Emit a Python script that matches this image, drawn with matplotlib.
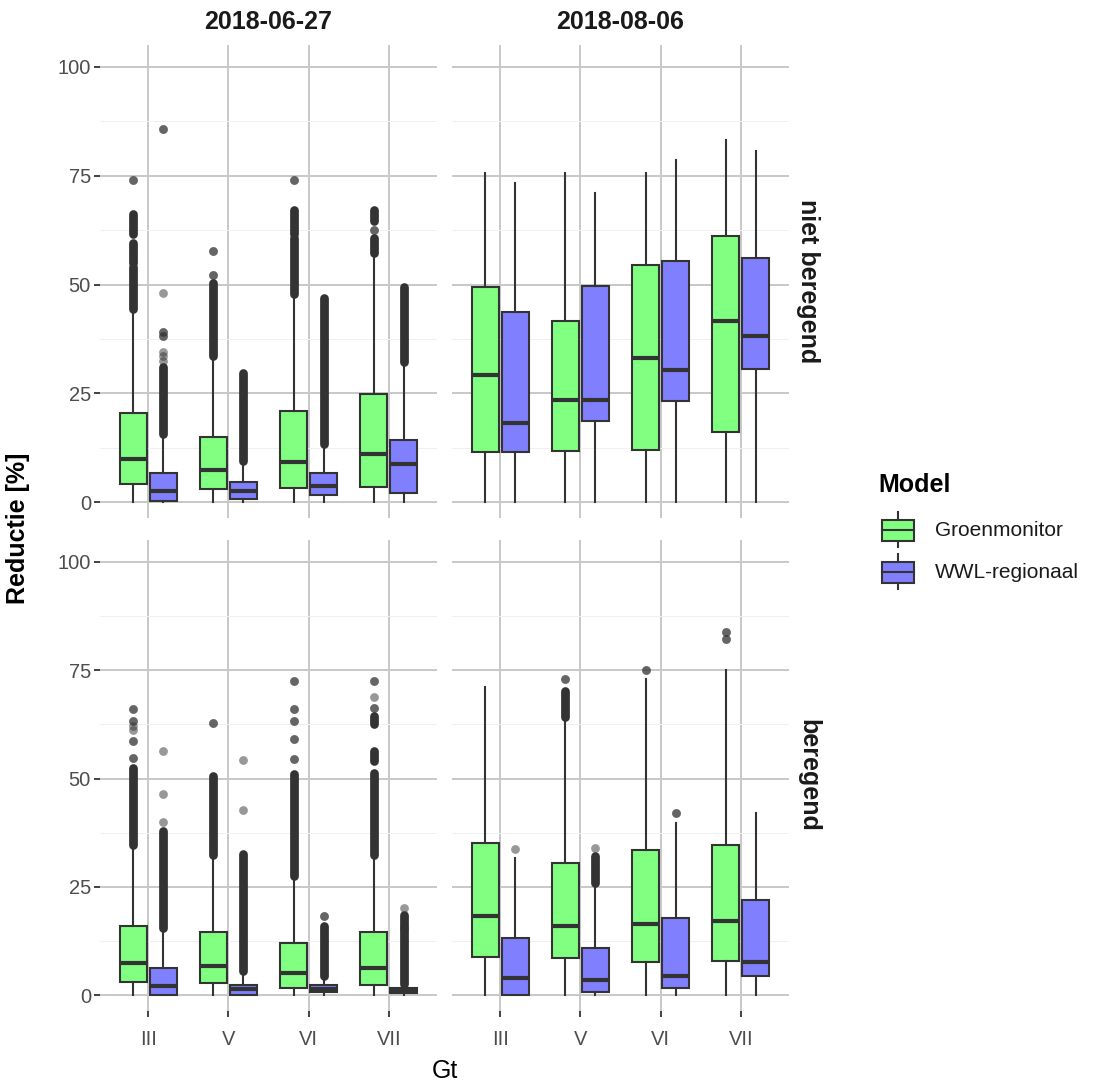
import matplotlib.pyplot as plt
from matplotlib.patches import Rectangle

plt.rcParams['font.family'] = ['Liberation Sans', 'DejaVu Sans']

W, H = 1093, 1084

gt_levels = ['III', 'V', 'VI', 'VII']
dates = ['2018-06-27', '2018-08-06']
irrigation = ['niet beregend', 'beregend']
models = ['Groenmonitor', 'WWL-regionaal']
fills = ['#80ff80', '#8080ff']
ink = '#333333'

# box statistics per Gt class: [lower whisker, Q1, median, Q3, upper whisker]
gm_0627_niet = [[0, 4.3, 10.0, 20.4, 44.3], [0, 3.1, 7.4, 15.1, 33.2],
                [0, 3.4, 9.3, 21.0, 47.7], [0, 3.6, 11.0, 24.9, 56.9]]
wwl_0627_niet = [[0, 0.2, 2.5, 6.7, 15.6], [0, 0.8, 2.6, 4.7, 9.3],
                 [0, 1.7, 3.7, 6.7, 13.3], [0, 2.2, 8.9, 14.4, 32.0]]
gm_0806_niet = [[0, 11.5, 29.3, 49.4, 75.5], [0, 11.7, 23.5, 41.7, 75.5],
                [0, 11.9, 33.1, 54.4, 75.5], [0, 16.1, 41.7, 61.2, 83.2]]
wwl_0806_niet = [[0, 11.5, 18.2, 43.8, 73.4], [0, 18.6, 23.5, 49.7, 71.1],
                 [0, 23.2, 30.3, 55.5, 78.6], [0, 30.6, 38.2, 56.0, 80.7]]
gm_0627_ber = [[0, 3.1, 7.4, 15.9, 34.5], [0, 2.9, 6.8, 14.7, 32.1],
               [0, 1.8, 5.1, 12.1, 27.3], [0, 2.5, 6.4, 14.7, 32.1]]
wwl_0627_ber = [[0, 0.0, 2.2, 6.4, 15.3], [0, 0.0, 1.5, 2.5, 5.4],
                [0, 0.7, 1.5, 2.3, 4.3], [0, 0.6, 1.2, 1.7, 2.5]]
gm_0806_ber = [[0, 8.9, 18.4, 35.1, 71.1], [0, 8.7, 16.1, 30.6, 64.0],
               [0, 7.6, 16.4, 33.6, 72.9], [0, 7.9, 17.2, 34.7, 75.0]]
wwl_0806_ber = [[0, 0.0, 3.9, 13.2, 31.7], [0, 0.7, 3.6, 10.9, 25.6],
                [0, 1.8, 4.5, 17.8, 39.8], [0, 4.4, 7.6, 22.1, 42.1]]

# single outliers per Gt class (repeated values overlap and print darker)
gm_0627_niet_pts = [[74.1, 74.1], [52.3, 52.3, 57.8, 57.8], [74.1, 74.1], [62.5, 62.5]]
wwl_0627_niet_pts = [[32.5, 33.5, 34.5, 38.3, 38.3, 39.0, 39.0, 48.1, 85.7, 85.7], [], [], []]
gm_0806_niet_pts = [[], [], [], []]
wwl_0806_niet_pts = [[], [], [], []]
gm_0627_ber_pts = [[54.7, 54.7, 58.6, 58.6, 61.1, 62.1, 63.2, 63.2, 66.0, 66.0],
                   [62.8, 62.8],
                   [54.5, 54.5, 59.1, 59.1, 63.2, 63.2, 66.0, 66.0, 72.4, 72.4],
                   [66.2, 66.2, 68.7, 72.4, 72.4]]
wwl_0627_ber_pts = [[40.0, 46.4, 56.3], [42.8, 54.2], [18.3, 18.3], [15.5, 20.2]]
gm_0806_ber_pts = [[], [72.9, 72.9], [75.0, 75.0], [82.2, 82.2, 83.7, 83.7]]
wwl_0806_ber_pts = [[33.7], [34.0], [42.0, 42.0], []]

# stretches where outliers overlap into a solid column: (from, to)
gm_0627_niet_runs = [[(44.5, 54.0), (55.0, 59.5), (61.5, 66.3)], [(33.5, 50.4)],
                     [(47.9, 60.7), (61.5, 67.2)], [(57.2, 60.8), (64.6, 67.2)]]
wwl_0627_niet_runs = [[(15.8, 31.0)], [(9.5, 29.7)], [(13.5, 46.9)], [(32.3, 49.4)]]
gm_0806_niet_runs = [[], [], [], []]
wwl_0806_niet_runs = [[], [], [], []]
gm_0627_ber_runs = [[(34.7, 52.4)], [(32.3, 50.6)], [(27.5, 51.0)],
                    [(32.3, 51.3), (54.0, 56.3), (62.5, 64.4)]]
wwl_0627_ber_runs = [[(15.5, 37.9)], [(5.6, 32.6)], [(4.5, 16.1)], [(2.7, 18.6)]]
gm_0806_ber_runs = [[], [(64.2, 70.2)], [], []]
wwl_0806_ber_runs = [[], [(25.8, 32.2)], [], []]

panels = {
    (0, 0): ([gm_0627_niet, wwl_0627_niet], [gm_0627_niet_pts, wwl_0627_niet_pts],
             [gm_0627_niet_runs, wwl_0627_niet_runs]),
    (0, 1): ([gm_0806_niet, wwl_0806_niet], [gm_0806_niet_pts, wwl_0806_niet_pts],
             [gm_0806_niet_runs, wwl_0806_niet_runs]),
    (1, 0): ([gm_0627_ber, wwl_0627_ber], [gm_0627_ber_pts, wwl_0627_ber_pts],
             [gm_0627_ber_runs, wwl_0627_ber_runs]),
    (1, 1): ([gm_0806_ber, wwl_0806_ber], [gm_0806_ber_pts, wwl_0806_ber_pts],
             [gm_0806_ber_runs, wwl_0806_ber_runs]),
}

# panel extents in pixels (left, right) and (top, bottom)
col_px = [(100, 437), (452, 789)]
row_px = [(45, 518), (540, 1011)]
offsets = [-0.1875, 0.1875]
box_w = 0.3375


def draw_panel(ax, stats, pts, runs):
    for m in range(len(models)):
        pos = [i + 1 + offsets[m] for i in range(len(gt_levels))]
        bstats = [dict(whislo=s[0], q1=s[1], med=s[2], q3=s[3], whishi=s[4])
                  for s in stats[m]]
        for i in range(len(gt_levels)):
            vals = pts[m][i]
            if vals:
                ax.scatter([pos[i]] * len(vals), vals, s=40, color=ink,
                           alpha=0.5, linewidths=0, zorder=3)
            for lo, hi in runs[m][i]:
                lc = ax.vlines(pos[i], lo, hi, color=ink, lw=6.3, zorder=3)
                lc.set_capstyle('round')
        ax.bxp(bstats, positions=pos, widths=box_w, showfliers=False,
               showcaps=False, patch_artist=True, manage_ticks=False,
               boxprops=dict(facecolor=fills[m], edgecolor=ink, linewidth=1.5),
               whiskerprops=dict(color=ink, linewidth=1.5),
               medianprops=dict(color=ink, linewidth=3.0, solid_capstyle='butt'),
               zorder=4)


fig = plt.figure(figsize=(W / 100, H / 100), dpi=100)

for (r, c), (stats, pts, runs) in panels.items():
    x0, x1 = col_px[c]
    y0, y1 = row_px[r]
    ax = fig.add_axes([x0 / W, 1 - y1 / H, (x1 - x0) / W, (y1 - y0) / H])
    ax.set_xlim(0.4, 4.6)
    ax.set_ylim(-3.6, 105)
    ax.set_axisbelow(True)
    ax.set_xticks(range(1, 5))
    ax.set_yticks([0, 25, 50, 75, 100])
    ax.set_yticks([12.5, 37.5, 62.5, 87.5], minor=True)
    ax.grid(True, which='major', color='#c8c8c8', lw=1.4)
    ax.grid(True, which='minor', axis='y', color='#f0f0f0', lw=0.7)
    for sp in ax.spines.values():
        sp.set_visible(False)
    ax.tick_params(which='minor', length=0)
    ax.tick_params(which='major', length=4.5, width=1.3, color=ink,
                   labelcolor='#4d4d4d', labelsize=14.5, pad=2)
    if r == 1:
        ax.set_xticklabels(gt_levels)
        ax.tick_params(axis='x', pad=9)
    else:
        ax.tick_params(axis='x', length=0, labelbottom=False)
    if c == 1:
        ax.tick_params(axis='y', length=0, labelleft=False)
    draw_panel(ax, stats, pts, runs)

# overlay in pixel coordinates for strips, titles and legend
ov = fig.add_axes([0, 0, 1, 1])
ov.set_xlim(0, W)
ov.set_ylim(H, 0)
ov.axis('off')
ov.patch.set_alpha(0)

for c, d in enumerate(dates):
    ov.text(sum(col_px[c]) / 2, 22, d, ha='center', va='center',
            fontsize=18, fontweight='bold', color='#1a1a1a')
for r, lab in enumerate(irrigation):
    ov.text(808, sum(row_px[r]) / 2, lab, ha='center', va='center',
            rotation=270, fontsize=18, fontweight='bold', color='#1a1a1a')

ov.text(18, 528, 'Reductie [%]', ha='center', va='center', rotation=90,
        fontsize=18, fontweight='bold')
ov.text(444.5, 1071, 'Gt', ha='center', va='center', fontsize=18)

# legend
ov.text(878, 485, 'Model', ha='left', va='center', fontsize=18, fontweight='bold')
for k, (name, col) in enumerate(zip(models, fills)):
    cy = 530 + 42 * k
    ov.plot([898, 898], [cy - 18, cy + 17], color=ink, lw=1.5)
    ov.add_patch(Rectangle((882, cy - 10.5), 32, 21, facecolor=col,
                           edgecolor=ink, lw=1.5, zorder=3))
    ov.plot([882, 914], [cy, cy], color=ink, lw=1.5, zorder=4)
    ov.text(935, cy, name, ha='left', va='center', fontsize=15, color='#1a1a1a')

fig.savefig('out.png', dpi=100)
